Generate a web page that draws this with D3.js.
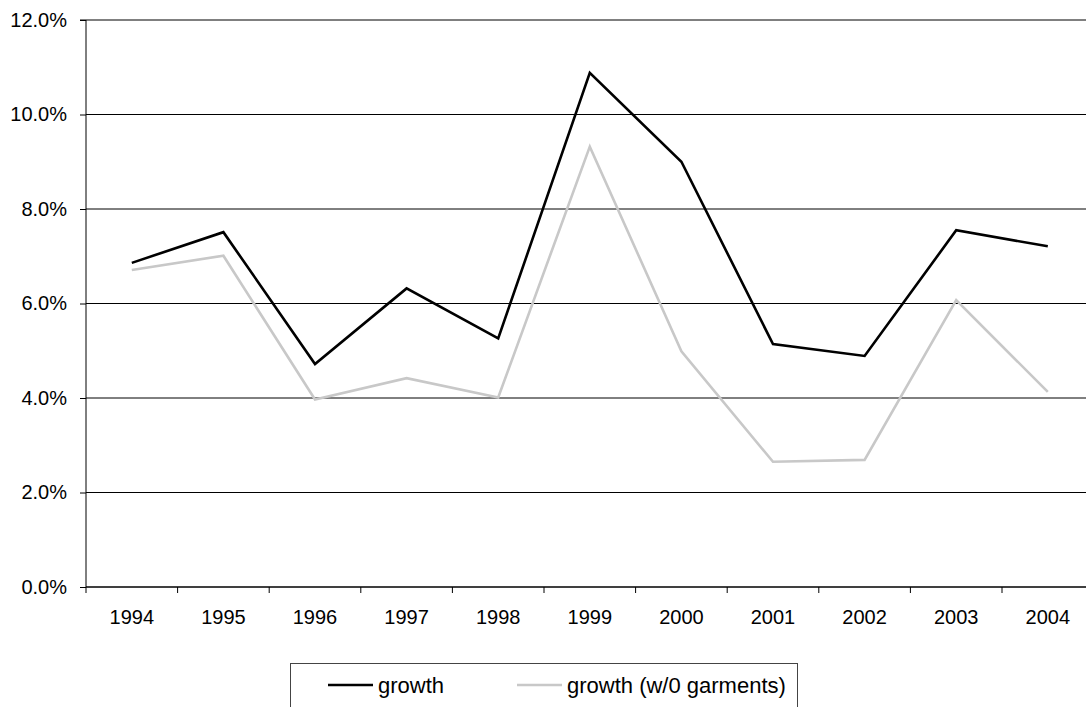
<!DOCTYPE html>
<html>
<head>
<meta charset="utf-8">
<script src="https://cdn.jsdelivr.net/npm/d3@7"></script>
<style>
  html, body { margin: 0; padding: 0; background: #fff; overflow: hidden; }
  svg { display: block; font-family: Arial, "Liberation Sans", sans-serif; }
</style>
</head>
<body>
<svg id="chart" width="1086" height="707"></svg>
<script>
// Annual growth rates, 1994–2004 (percent)
const years = ["1994", "1995", "1996", "1997", "1998", "1999", "2000", "2001", "2002", "2003", "2004"];
const growth = [6.86, 7.51, 4.72, 6.32, 5.26, 10.88, 9.0, 5.14, 4.89, 7.55, 7.21];
const growthNoGarments = [6.71, 7.01, 3.97, 4.42, 4.01, 9.32, 4.99, 2.65, 2.69, 6.07, 4.13];
const yTicks = [0, 2, 4, 6, 8, 10, 12];

const seriesList = [
  { name: "growth", values: growth, color: "#000000" },
  { name: "growth (w/0 garments)", values: growthNoGarments, color: "#c8c8c8" }
];

const svg = d3.select("#chart");

const plotLeft = 86, plotTop = 20, plotBottom = 587;
const band = 91.6;
const plotRight = plotLeft + band * years.length;

const x = d3.scaleBand().domain(years).range([plotLeft, plotRight]).padding(0);
const y = d3.scaleLinear().domain([0, 12]).range([plotBottom, plotTop]);

// Horizontal gridlines
svg.append("g")
  .selectAll("line")
  .data(yTicks)
  .join("line")
  .attr("x1", plotLeft)
  .attr("x2", plotRight)
  .attr("y1", d => y(d))
  .attr("y2", d => y(d))
  .attr("stroke", "#000")
  .attr("stroke-width", 1);

// Y axis
const yAxis = d3.axisLeft(y)
  .tickValues(yTicks)
  .tickFormat(d => d.toFixed(1) + "%")
  .tickSize(6)
  .tickPadding(13);
svg.append("g")
  .attr("transform", `translate(${plotLeft},0)`)
  .call(yAxis)
  .call(g => g.select(".domain").attr("stroke", "#000").attr("d", `M-6,${plotTop}H0V${plotBottom}`))
  .call(g => g.selectAll(".tick line").attr("stroke", "#000"))
  .call(g => g.selectAll(".tick text")
    .attr("fill", "#000")
    .attr("font-size", 20)
    .attr("font-family", "Arial, 'Liberation Sans', sans-serif"));

// X axis: ticks sit on band boundaries, labels at band centres
const xAxisG = svg.append("g").attr("transform", `translate(0,${plotBottom})`);
xAxisG.append("line")
  .attr("x1", plotLeft).attr("x2", plotRight)
  .attr("y1", 0).attr("y2", 0)
  .attr("stroke", "#000");
xAxisG.selectAll("line.tk")
  .data(years)
  .join("line")
  .attr("class", "tk")
  .attr("x1", d => x(d)).attr("x2", d => x(d))
  .attr("y1", 0).attr("y2", 6)
  .attr("stroke", "#000");
xAxisG.selectAll("text")
  .data(years)
  .join("text")
  .attr("x", d => x(d) + x.bandwidth() / 2)
  .attr("y", 37)
  .attr("text-anchor", "middle")
  .attr("font-size", 20)
  .attr("fill", "#000")
  .text(d => d);

// Series lines
const line = d3.line()
  .x((d, i) => x(years[i]) + x.bandwidth() / 2)
  .y(d => y(d));

svg.append("g")
  .selectAll("path")
  .data(seriesList.slice().reverse())
  .join("path")
  .attr("d", d => line(d.values))
  .attr("fill", "none")
  .attr("stroke", d => d.color)
  .attr("stroke-width", 2.6)
  .attr("stroke-linejoin", "miter");

// Legend
const legend = svg.append("g").attr("transform", "translate(290,663)");
legend.append("rect")
  .attr("x", 0.5).attr("y", 0.5)
  .attr("width", 507).attr("height", 60)
  .attr("fill", "#fff")
  .attr("stroke", "#444")
  .attr("stroke-width", 1);

const legendX = [38, 227];
const items = legend.selectAll("g.item")
  .data(seriesList)
  .join("g")
  .attr("class", "item")
  .attr("transform", (d, i) => `translate(${legendX[i]},22)`);
items.append("line")
  .attr("x1", 0).attr("x2", 45)
  .attr("y1", 0).attr("y2", 0)
  .attr("stroke", d => d.color)
  .attr("stroke-width", 2.6);
items.append("text")
  .attr("x", 50)
  .attr("y", 8)
  .attr("font-size", 22)
  .attr("fill", "#000")
  .text(d => d.name);
</script>
</body>
</html>
